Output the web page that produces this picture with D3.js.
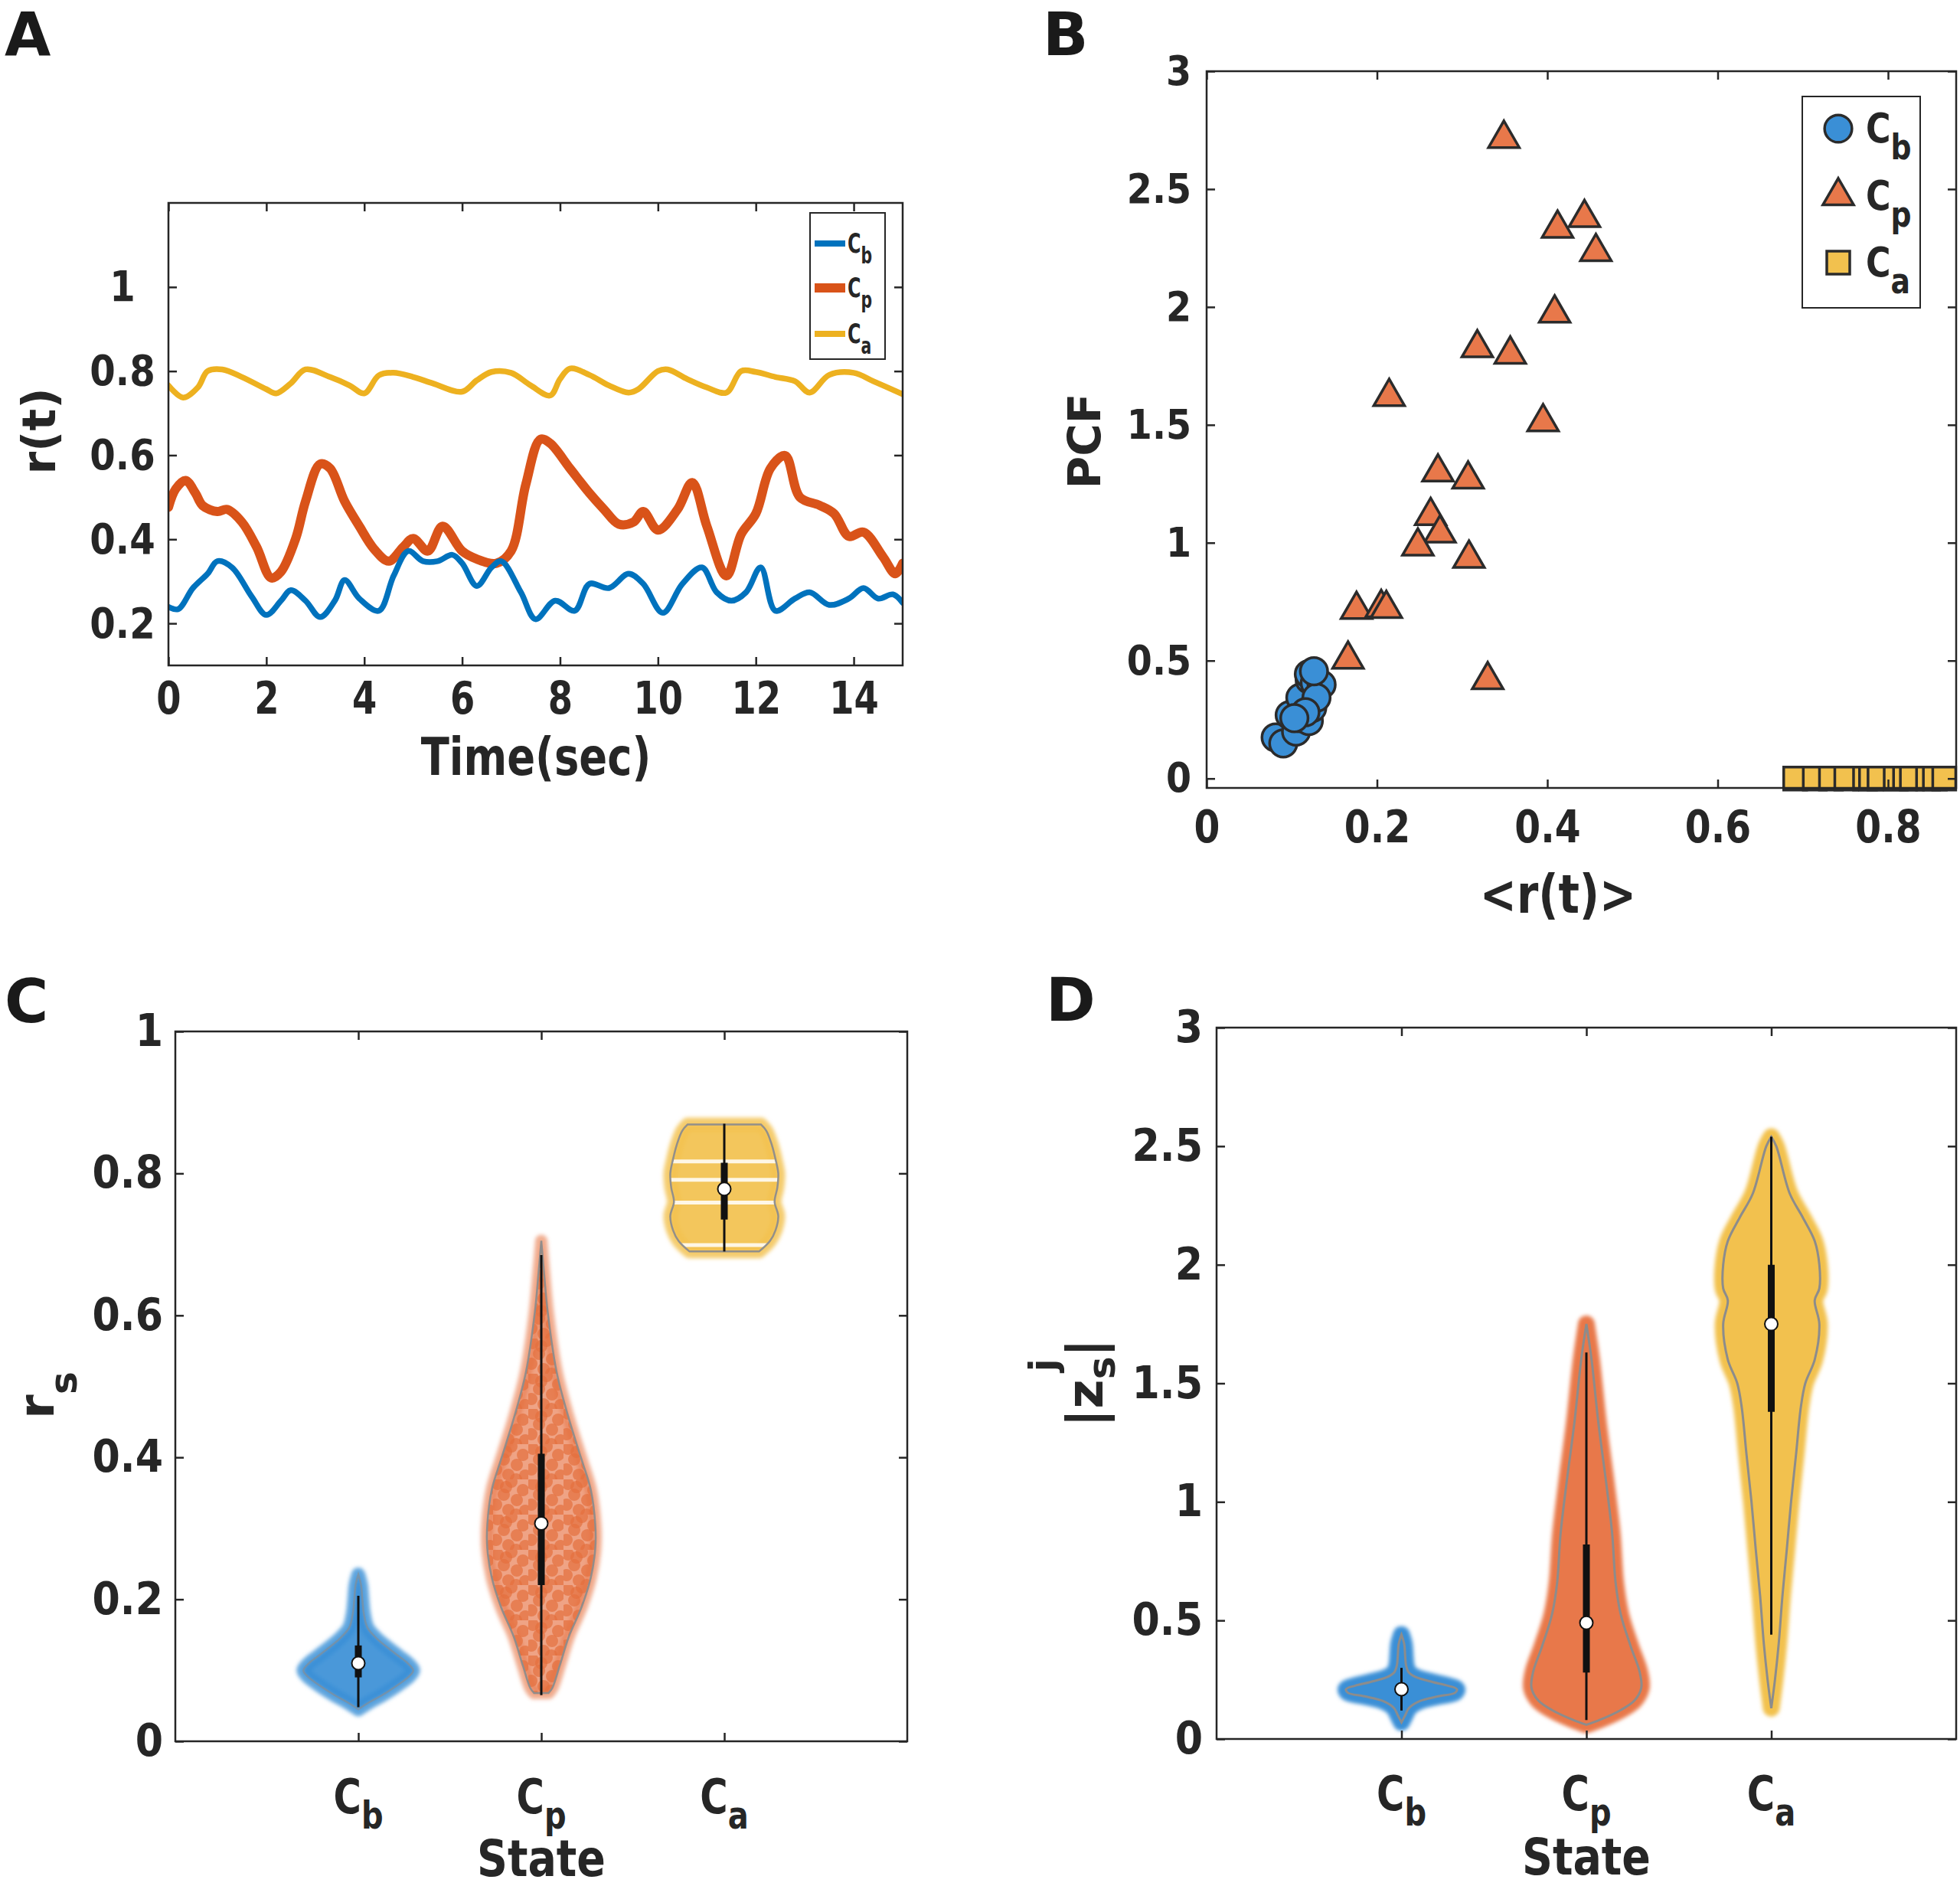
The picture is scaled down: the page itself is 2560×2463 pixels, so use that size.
<!DOCTYPE html>
<html><head><meta charset="utf-8">
<script src="https://cdn.jsdelivr.net/npm/d3@7"></script>
<style>body{margin:0;background:#fff}</style>
</head><body>
<svg id="fig" width="2560" height="2463" xmlns="http://www.w3.org/2000/svg"></svg>
<script>
// ---------------- DATA ----------------
// Panel A: r(t) time series
const tCb = [0,0.2,0.5,0.8,1.0,1.3,1.7,2.0,2.3,2.5,2.8,3.1,3.4,3.6,3.9,4.3,4.6,4.9,5.2,5.5,5.8,6.0,6.3,6.6,6.8,7.2,7.5,7.9,8.3,8.6,9.0,9.4,9.7,10.1,10.5,10.9,11.2,11.5,11.8,12.1,12.4,12.8,13.1,13.5,13.9,14.2,14.5,14.8,15];
const rCb = [0.239,0.234,0.284,0.318,0.348,0.333,0.264,0.22,0.254,0.279,0.254,0.215,0.254,0.303,0.259,0.23,0.313,0.372,0.348,0.348,0.363,0.343,0.289,0.333,0.348,0.274,0.21,0.254,0.23,0.294,0.284,0.318,0.294,0.225,0.294,0.333,0.274,0.254,0.274,0.333,0.23,0.259,0.274,0.244,0.259,0.284,0.259,0.269,0.249];
const tCp = [0,0.15,0.35,0.55,0.7,1.0,1.2,1.5,1.8,2.1,2.3,2.6,2.8,3.1,3.3,3.6,3.9,4.2,4.5,4.8,5.0,5.3,5.6,6.0,6.3,6.7,7.0,7.3,7.6,7.8,8.2,8.6,8.9,9.2,9.5,9.7,10.0,10.4,10.7,11.0,11.4,11.7,12.0,12.3,12.6,12.9,13.3,13.6,13.9,14.2,14.6,14.85,15];
const rCp = [0.476,0.52,0.54,0.51,0.48,0.466,0.471,0.441,0.382,0.308,0.323,0.402,0.49,0.579,0.569,0.49,0.431,0.377,0.348,0.382,0.402,0.372,0.431,0.372,0.353,0.343,0.372,0.53,0.638,0.628,0.569,0.51,0.471,0.436,0.441,0.466,0.422,0.471,0.535,0.431,0.313,0.412,0.461,0.569,0.599,0.50,0.481,0.461,0.407,0.417,0.358,0.318,0.343];
const tCa = [0,0.3,0.6,0.8,1.1,1.5,2.0,2.2,2.5,2.8,3.3,3.7,4.0,4.3,4.6,5.0,5.4,6.0,6.3,6.6,7.0,7.4,7.8,8.0,8.2,8.6,9.0,9.4,9.6,10,10.2,10.6,11,11.4,11.7,12.0,12.4,12.8,13.1,13.5,14.0,14.4,15];
const rCa = [0.766,0.737,0.761,0.80,0.804,0.786,0.757,0.747,0.771,0.804,0.786,0.766,0.747,0.79,0.796,0.786,0.771,0.751,0.778,0.798,0.796,0.766,0.742,0.781,0.806,0.791,0.766,0.749,0.757,0.80,0.804,0.781,0.761,0.749,0.80,0.798,0.786,0.776,0.749,0.791,0.796,0.776,0.745];
const xTicksA = [0,2,4,6,8,10,12,14];
const xTickLabelsA = ["0","2","4","6","8","10","12","14"];
const yTicksA = [0.2,0.4,0.6,0.8,1];
const yTickLabelsA = ["0.2","0.4","0.6","0.8","1"];

// Panel B: PCF vs <r(t)>
const cbX = [0.081,0.090,0.105,0.0975,0.110,0.120,0.110,0.124,0.121,0.120,0.127,0.135,0.129,0.116,0.103,0.126];
const cbY = [0.174,0.149,0.199,0.269,0.256,0.244,0.343,0.299,0.418,0.443,0.405,0.398,0.343,0.281,0.256,0.455];
const cpX = [0.349,0.4436,0.412,0.457,0.4086,0.3178,0.3565,0.2143,0.395,0.2716,0.307,0.263,0.274,0.248,0.308,0.176,0.205,0.211,0.166,0.330];
const cpY = [2.714,2.378,2.333,2.234,1.973,1.826,1.799,1.619,1.512,1.299,1.269,1.114,1.04,0.985,0.933,0.716,0.724,0.72,0.505,0.418];
const caX = [0.691,0.714,0.733,0.751,0.773,0.78,0.790,0.809,0.82,0.828,0.847,0.855,0.866];
const caY = [0,0,0,0,0,0,0,0,0,0,0,0,0];
const xTicksB = [0,0.2,0.4,0.6,0.8];
const xTickLabelsB = ["0","0.2","0.4","0.6","0.8"];
const yTicksB = [0,0.5,1,1.5,2,2.5,3];
const yTickLabelsB = ["0","0.5","1","1.5","2","2.5","3"];

// Categories (subscripts of C)
const states = ["b","p","a"];

// Panel C: r_s violins, profile = [value, half width in category units]
const rsCbProfile = [[0.045,0],[0.055,0.06],[0.065,0.13],[0.08,0.22],[0.092,0.28],[0.1,0.3],[0.11,0.27],[0.12,0.22],[0.13,0.17],[0.145,0.1],[0.16,0.05],[0.18,0.03],[0.2,0.022],[0.22,0.015],[0.235,0]];
const rsCpProfile = [[0.068,0.04],[0.075,0.06],[0.106,0.1],[0.147,0.15],[0.189,0.22],[0.23,0.27],[0.272,0.295],[0.305,0.295],[0.355,0.27],[0.397,0.22],[0.455,0.15],[0.52,0.084],[0.605,0.035],[0.66,0.015],[0.705,0]];
const rsCaProfile = [[0.69,0.19],[0.705,0.25],[0.72,0.28],[0.74,0.295],[0.76,0.275],[0.78,0.29],[0.80,0.295],[0.82,0.28],[0.84,0.26],[0.86,0.23],[0.869,0.2]];
const rsCaGaps = [0.699,0.759,0.791,0.817];
const rsMedian = [0.11,0.307,0.778];
const rsQ1 = [0.09,0.22,0.735];
const rsQ3 = [0.135,0.405,0.815];
const rsLow = [0.048,0.065,0.69];
const rsHigh = [0.205,0.685,0.87];
const yTicksC = [0,0.2,0.4,0.6,0.8,1];
const yTickLabelsC = ["0","0.2","0.4","0.6","0.8","1"];

// Panel D: |z_s^j| violins
const zCbProfile = [[0.07,0],[0.1,0.02],[0.13,0.04],[0.16,0.1],[0.18,0.2],[0.195,0.29],[0.21,0.3],[0.225,0.25],[0.24,0.17],[0.26,0.08],[0.28,0.04],[0.31,0.025],[0.35,0.02],[0.4,0.015],[0.44,0]];
const zCpProfile = [[0.06,0],[0.081,0.074],[0.122,0.186],[0.162,0.26],[0.216,0.297],[0.283,0.288],[0.39,0.24],[0.525,0.186],[0.66,0.158],[0.862,0.14],[1.063,0.11],[1.333,0.065],[1.6,0.028],[1.75,0]];
const zCaProfile = [[0.13,0],[0.25,0.02],[0.4,0.04],[0.6,0.06],[0.8,0.084],[1.0,0.107],[1.2,0.134],[1.4,0.16],[1.5,0.184],[1.6,0.235],[1.75,0.26],[1.85,0.235],[1.9,0.26],[2.0,0.26],[2.1,0.235],[2.2,0.17],[2.3,0.1],[2.5,0.027],[2.54,0]];
const zMedian = [0.21,0.49,1.75];
const zQ1 = [0.19,0.28,1.38];
const zQ3 = [0.235,0.82,2.0];
const zLow = [0.12,0.08,0.44];
const zHigh = [0.3,1.63,2.54];
const yTicksD = [0,0.5,1,1.5,2,2.5,3];
const yTickLabelsD = ["0","0.5","1","1.5","2","2.5","3"];

// ---------------- STYLE ----------------
const FONT = "'DejaVu Sans', Verdana, sans-serif";
const AX = '#262626';
const LINE_COL = ['#0072BD','#D95319','#EDB120'];
const MARK_COL = ['#3A8FD6','#E8784A','#F2C14E'];
const GRAY = '#8C8C8C';

const svg = d3.select('#fig').attr('font-family', FONT).attr('font-weight','bold');
const defs = svg.append('defs');
defs.append('filter').attr('id','soft').attr('x','-20%').attr('y','-20%').attr('width','140%').attr('height','140%')
  .append('feGaussianBlur').attr('stdDeviation',2.5);
const pat = defs.append('pattern').attr('id','dotsCp').attr('patternUnits','userSpaceOnUse').attr('width',46).attr('height',46);
[[6,6],[24,3],[39,14],[14,20],[31,27],[4,33],[20,40],[42,41],[17,10],[30,46]].forEach(p=>{
  pat.append('circle').attr('cx',p[0]).attr('cy',p[1]).attr('r',8).attr('fill','#E56F3E').attr('fill-opacity',0.7);
});

function condense(sel, f){
  sel.each(function(){
    const w = this.getComputedTextLength();
    this.setAttribute('textLength', w*f);
    this.setAttribute('lengthAdjust','spacingAndGlyphs');
  });
}

function frame(g, xs, ys){
  const [x0,x1] = xs.range(), [y0,y1] = ys.range();
  g.append('rect').attr('x',x0).attr('y',y1).attr('width',x1-x0).attr('height',y0-y1)
    .attr('fill','none').attr('stroke',AX).attr('stroke-width',2.5);
}

function axes(g, xs, ys, o){
  const [x0,x1] = xs.range(), [y0,y1] = ys.range();
  const TL = 11;
  const style = a => { a.select('.domain').remove(); a.selectAll('line').attr('stroke',AX).attr('stroke-width',2.5);
    a.attr('font-family',FONT).attr('font-weight','bold').attr('fill',AX).attr('color',AX); };
  const xfmt = o.xLabels ? (d,i)=>o.xLabels[i] : '';
  const b = g.append('g').attr('transform',`translate(0,${y0})`)
    .call(d3.axisBottom(xs).tickValues(o.xTicks).tickSize(-TL).tickSizeOuter(0).tickPadding(o.xPad||20).tickFormat(xfmt));
  style(b); b.attr('font-size',o.xFs||56);
  b.selectAll('text').attr('fill',AX);
  if (o.xCond) condense(b.selectAll('text'), o.xCond);
  const t = g.append('g').attr('transform',`translate(0,${y1})`)
    .call(d3.axisTop(xs).tickValues(o.xTicks).tickSize(-TL).tickSizeOuter(0).tickFormat(''));
  style(t);
  const l = g.append('g').attr('transform',`translate(${x0},0)`)
    .call(d3.axisLeft(ys).tickValues(o.yTicks).tickSize(-TL).tickSizeOuter(0).tickPadding(o.yPad||16).tickFormat((d,i)=>o.yLabels[i]));
  style(l); l.attr('font-size',o.yFs||56);
  l.selectAll('text').attr('fill',AX);
  if (o.yCond) condense(l.selectAll('text'), o.yCond);
  if (o.yCenter) l.selectAll('text').attr('text-anchor','middle').attr('x',-o.yCenter);
  const r = g.append('g').attr('transform',`translate(${x1},0)`)
    .call(d3.axisRight(ys).tickValues(o.yTicks).tickSize(-TL).tickSizeOuter(0).tickFormat(''));
  style(r);
}

function panelLetter(x, y, s){
  svg.append('text').attr('x',x).attr('y',y).attr('font-size',78).attr('fill','#1a1a1a').text(s);
}

function cSub(sel, s, fs, subFs, dy){
  sel.append('tspan').text('C');
  sel.append('tspan').attr('font-size',subFs).attr('dy',dy).text(s);
}

// ---------------- PANEL A ----------------
panelLetter(6, 72, 'A');
const gA = svg.append('g');
const xA = d3.scaleLinear().domain([0,15]).range([220,1179]);
const yA = d3.scaleLinear().domain([0.1,1.2]).range([869,265]);
defs.append('clipPath').attr('id','clipA').append('rect').attr('x',220).attr('y',265).attr('width',959).attr('height',604);
const lineA = d3.line().x(d=>xA(d[0])).y(d=>yA(d[1])).curve(d3.curveCatmullRom.alpha(0.5));
const seriesA = [
  {t:tCa, r:rCa, c:LINE_COL[2], w:7.5},
  {t:tCp, r:rCp, c:LINE_COL[1], w:12},
  {t:tCb, r:rCb, c:LINE_COL[0], w:7.5}
];
const gLines = gA.append('g').attr('clip-path','url(#clipA)');
seriesA.forEach(s=>{
  gLines.append('path').datum(d3.zip(s.t, s.r)).attr('d',lineA).attr('fill','none')
    .attr('stroke',s.c).attr('stroke-width',s.w).attr('stroke-linejoin','round').attr('stroke-linecap','round');
});
frame(gA, xA, yA);
axes(gA, xA, yA, {xTicks:xTicksA, xLabels:xTickLabelsA, yTicks:yTicksA, yLabels:yTickLabelsA, xPad:22, xFs:58, xCond:0.8, yFs:56, yCond:0.86, yCenter:60});
// legend A
const legA = gA.append('g');
legA.append('rect').attr('x',1058).attr('y',278).attr('width',98).attr('height',191).attr('fill','#fff').attr('stroke',AX).attr('stroke-width',2);
const legAy = [318,376,436];
const legAw = [8,12,8];
[0,1,2].forEach(i=>{
  legA.append('line').attr('x1',1064).attr('x2',1104).attr('y1',legAy[i]).attr('y2',legAy[i]).attr('stroke',LINE_COL[i]).attr('stroke-width',legAw[i]);
  const tx = legA.append('text').attr('x',1107).attr('y',legAy[i]+12).attr('font-size',35).attr('fill',AX);
  cSub(tx, states[i], 35, 30, 14);
  condense(tx, 0.68);
});
gA.append('text').attr('x',700).attr('y',1012).attr('text-anchor','middle').attr('font-size',68).attr('fill',AX).text('Time(sec)').call(condense,0.8);
gA.append('text').attr('transform','translate(72,563) rotate(-90)').attr('text-anchor','middle').attr('font-size',60).attr('fill',AX).text('r(t)');

// ---------------- PANEL B ----------------
panelLetter(1362, 72, 'B');
const gB = svg.append('g');
const xB = d3.scaleLinear().domain([0,0.88]).range([1576,2555]);
const yB = d3.scaleLinear().domain([-0.04,3]).range([1029,93]);
const symCircle = d3.symbol().type(d3.symbolCircle).size(1000);
const symTri = d3.symbol().type(d3.symbolTriangle).size(700);
const symSq = d3.symbol().type(d3.symbolSquare).size(900);
const ptStroke = {stroke:'#2b2b2b', w:3.5};
gB.append('g').selectAll('path').data(d3.zip(cbX,cbY)).join('path')
  .attr('transform',d=>`translate(${xB(d[0])},${yB(d[1])})`).attr('d',symCircle)
  .attr('fill',MARK_COL[0]).attr('stroke',ptStroke.stroke).attr('stroke-width',ptStroke.w);
gB.append('g').selectAll('path').data(d3.zip(cpX,cpY)).join('path')
  .attr('transform',d=>`translate(${xB(d[0])},${yB(d[1])})`).attr('d',symTri)
  .attr('fill',MARK_COL[1]).attr('stroke',ptStroke.stroke).attr('stroke-width',ptStroke.w).attr('stroke-linejoin','miter');
gB.append('g').selectAll('path').data(d3.zip(caX,caY)).join('path')
  .attr('transform',d=>`translate(${xB(d[0])},${yB(d[1])})`).attr('d',symSq)
  .attr('fill',MARK_COL[2]).attr('stroke',ptStroke.stroke).attr('stroke-width',ptStroke.w);
frame(gB, xB, yB);
axes(gB, xB, yB, {xTicks:xTicksB, xLabels:xTickLabelsB, yTicks:yTicksB, yLabels:yTickLabelsB, xPad:30, xFs:58, xCond:0.84, yFs:54, yCond:0.88, yPad:20});
const legB = gB.append('g');
legB.append('rect').attr('x',2354).attr('y',126).attr('width',154).attr('height',276).attr('fill','#fff').attr('stroke',AX).attr('stroke-width',2);
const legBy = [168,256,343];
const legSyms = [symCircle, symTri, symSq];
[0,1,2].forEach(i=>{
  legB.append('path').attr('transform',`translate(2401,${legBy[i]})`).attr('d',legSyms[i])
    .attr('fill',MARK_COL[i]).attr('stroke',ptStroke.stroke).attr('stroke-width',ptStroke.w);
  const tx = legB.append('text').attr('x',2437).attr('y',legBy[i]+18).attr('font-size',54).attr('fill',AX);
  cSub(tx, states[i], 54, 46, 22);
  condense(tx, 0.82);
});
gB.append('text').attr('x',2035).attr('y',1192).attr('text-anchor','middle').attr('font-size',70).attr('fill',AX).text('<r(t)>').call(condense,0.82);
gB.append('text').attr('transform','translate(1437,576) rotate(-90)').attr('text-anchor','middle').attr('font-size',58).attr('fill',AX).text('PCF');

// ---------------- violin helper ----------------
function drawViolins(g, xs, ys, profiles, stats, mode){
  const unit = xs(1)-xs(0);
  profiles.forEach((prof,i)=>{
    const cx = i+1;
    const area = d3.area().curve(d3.curveCatmullRom.alpha(0.5))
      .y(d=>ys(d[0])).x0(d=>xs(cx)-d[1]*unit).x1(d=>xs(cx)+d[1]*unit);
    const dPath = area(prof);
    if (mode==='C'){
      if (i===1){
        g.append('path').attr('d',dPath).attr('fill',MARK_COL[1]).attr('fill-opacity',0.68)
          .attr('stroke',MARK_COL[1]).attr('stroke-opacity',0.6).attr('stroke-width',16).attr('stroke-linejoin','round').attr('filter','url(#soft)');
        g.append('path').attr('d',dPath).attr('fill','url(#dotsCp)');
      } else {
        g.append('path').attr('d',dPath).attr('fill',MARK_COL[i]).attr('fill-opacity',0.92)
          .attr('stroke',MARK_COL[i]).attr('stroke-opacity',0.8).attr('stroke-width',18).attr('stroke-linejoin','round').attr('filter','url(#soft)');
      }
      if (i===2){
        const cid = 'clipCa';
        defs.append('clipPath').attr('id',cid).append('path').attr('d',dPath);
        g.append('g').attr('clip-path',`url(#${cid})`).selectAll('line').data(rsCaGaps).join('line')
          .attr('x1',xs(cx)-unit*0.45).attr('x2',xs(cx)+unit*0.45).attr('y1',d=>ys(d)).attr('y2',d=>ys(d))
          .attr('stroke','#fff').attr('stroke-opacity',0.85).attr('stroke-width',5);
      }
      g.append('path').attr('d',dPath).attr('fill','none').attr('stroke',GRAY).attr('stroke-width',2.5).attr('stroke-opacity',i===0?0.6:0.95);
    } else {
      g.append('path').attr('d',dPath).attr('fill',MARK_COL[i])
        .attr('stroke',MARK_COL[i]).attr('stroke-width',22).attr('stroke-linejoin','round').attr('filter','url(#soft)');
      g.append('path').attr('d',dPath).attr('fill',MARK_COL[i]);
      g.append('path').attr('d',dPath).attr('fill','none').attr('stroke',GRAY).attr('stroke-width',3);
    }
    const x = xs(cx);
    g.append('line').attr('x1',x).attr('x2',x).attr('y1',ys(stats.lo[i])).attr('y2',ys(stats.hi[i])).attr('stroke','#111').attr('stroke-width',3);
    g.append('line').attr('x1',x).attr('x2',x).attr('y1',ys(stats.q1[i])).attr('y2',ys(stats.q3[i])).attr('stroke','#111').attr('stroke-width',9);
    g.append('circle').attr('cx',x).attr('cy',ys(stats.med[i])).attr('r',8.5).attr('fill','#fff').attr('stroke','#111').attr('stroke-width',2);
  });
}

function catLabels(g, xs, y, title, titleY){
  g.selectAll('text.cat').data(states).join('text').attr('class','cat')
    .attr('x',(d,i)=>xs(i+1)).attr('y',y).attr('text-anchor','middle').attr('font-size',62).attr('fill',AX)
    .each(function(d){ cSub(d3.select(this), d, 62, 50, 20); })
    .call(condense, 0.8);
  g.append('text').attr('x',(xs.range()[0]+xs.range()[1])/2).attr('y',titleY).attr('text-anchor','middle')
    .attr('font-size',66).attr('fill',AX).text(title).call(condense,0.84);
}

// ---------------- PANEL C ----------------
panelLetter(6, 1335, 'C');
const gC = svg.append('g');
const xC = d3.scaleLinear().domain([0,4]).range([229,1185]);
const yC = d3.scaleLinear().domain([0,1]).range([2274,1347]);
drawViolins(gC, xC, yC, [rsCbProfile, rsCpProfile, rsCaProfile],
  {med:rsMedian, q1:rsQ1, q3:rsQ3, lo:rsLow, hi:rsHigh}, 'C');
frame(gC, xC, yC);
axes(gC, xC, yC, {xTicks:[1,2,3], xLabels:null, yTicks:yTicksC, yLabels:yTickLabelsC, yFs:58, yCond:0.9, yPad:16});
catLabels(gC, xC, 2368, 'State', 2450);
{
  const t = gC.append('text').attr('transform','translate(70,1822) rotate(-90)').attr('text-anchor','middle').attr('font-size',64).attr('fill',AX);
  t.append('tspan').text('r');
  t.append('tspan').attr('font-size',50).attr('dy',30).text('s');
}

// ---------------- PANEL D ----------------
panelLetter(1366, 1333, 'D');
const gD = svg.append('g');
const xD = d3.scaleLinear().domain([0,4]).range([1589,2555]);
const yD = d3.scaleLinear().domain([0,3]).range([2271,1342]);
drawViolins(gD, xD, yD, [zCbProfile, zCpProfile, zCaProfile],
  {med:zMedian, q1:zQ1, q3:zQ3, lo:zLow, hi:zHigh}, 'D');
frame(gD, xD, yD);
axes(gD, xD, yD, {xTicks:[1,2,3], xLabels:null, yTicks:yTicksD, yLabels:yTickLabelsD, yFs:58, yCond:0.9, yPad:18});
catLabels(gD, xD, 2364, 'State', 2448);
{
  const t = gD.append('text').attr('transform','translate(1440,1806) rotate(-90)').attr('text-anchor','middle').attr('font-size',66).attr('fill',AX);
  t.append('tspan').text('|z');
  t.append('tspan').attr('font-size',50).attr('dy',16).text('s');
  t.append('tspan').attr('font-size',50).attr('dx',-20).attr('dy',-76).text('j');
  t.append('tspan').attr('dy',60).attr('dx',2).text('|');
}
</script></body></html>
